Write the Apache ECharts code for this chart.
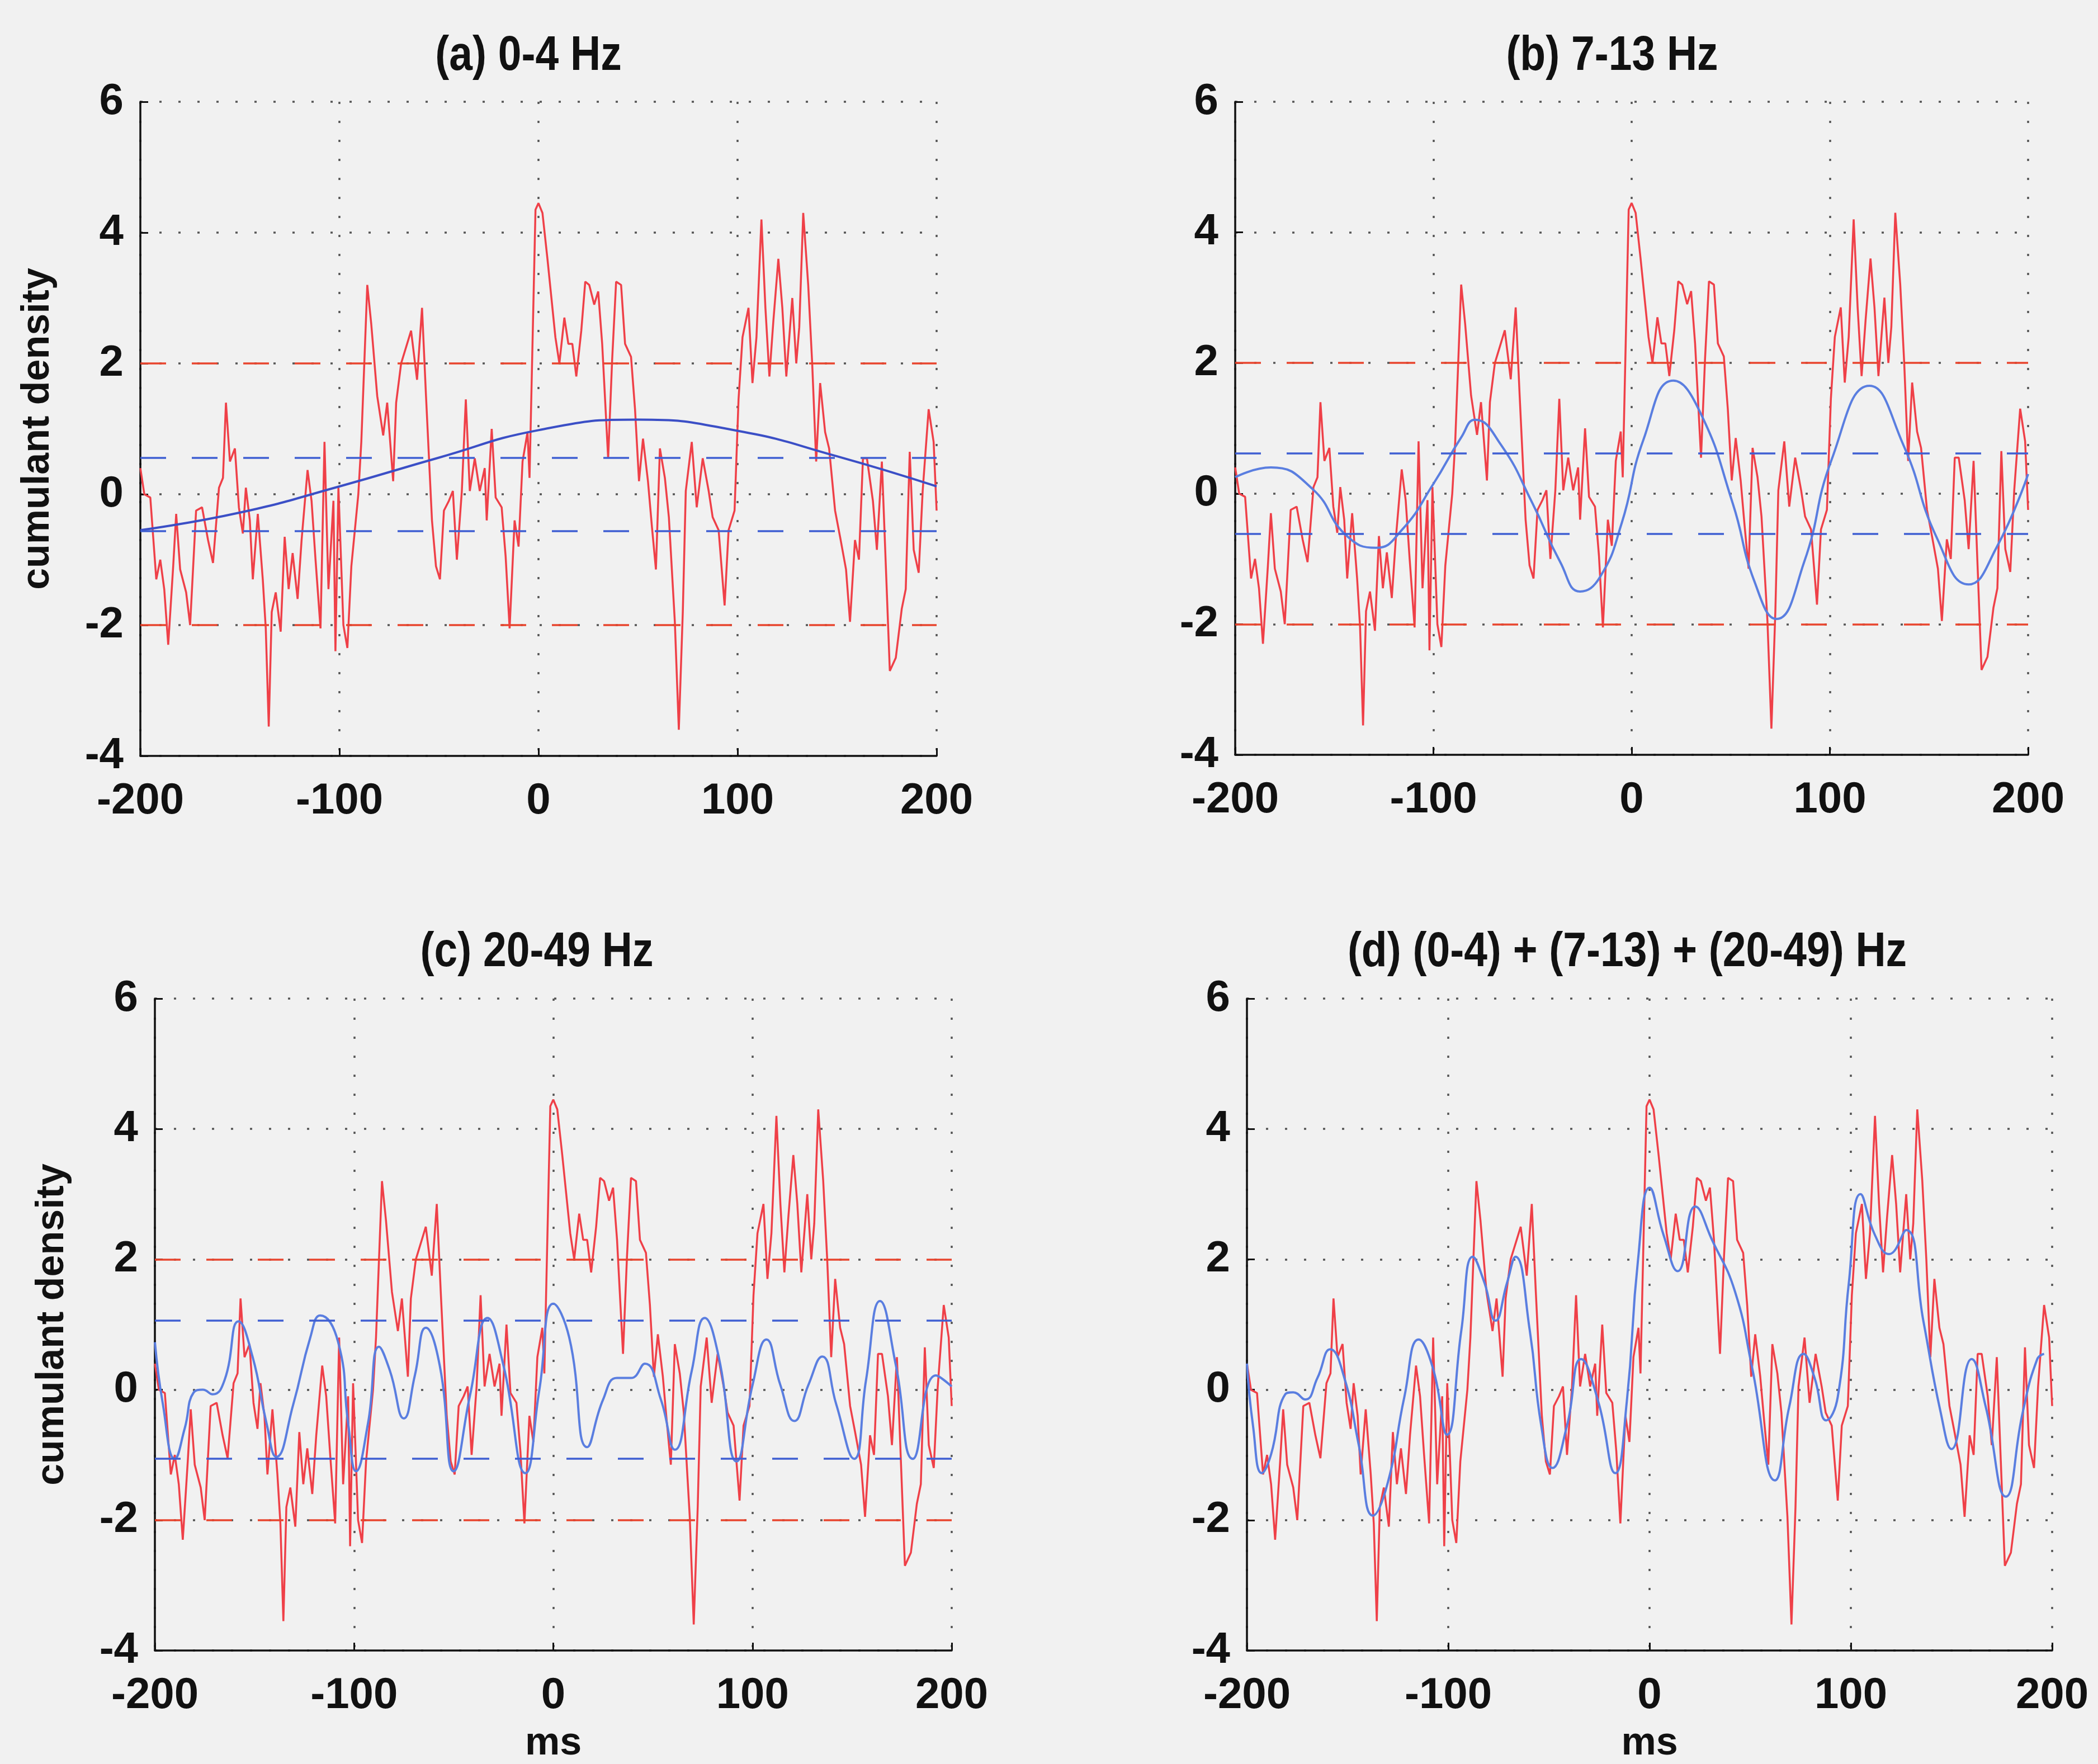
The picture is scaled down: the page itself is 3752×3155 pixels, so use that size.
<!DOCTYPE html>
<html>
<head>
<meta charset="utf-8">
<script src="https://cdn.jsdelivr.net/npm/echarts@6/dist/echarts.min.js"></script>
<style>
  html, body { margin: 0; padding: 0; background: #f1f1f1; }
  #chart { width: 3752px; height: 3155px; }
</style>
</head>
<body>
<div id="chart"></div>
<script>
  // ticks
  const xTicks = [-200, -100, 0, 100, 200];
  const yTicks = [-4, -2, 0, 2, 4, 6];

  // raw cumulant density (same trace in all four panels), [ms, value]
  const rawCumulant = [
    [-200,0.4],[-198,0.0],[-195,-0.05],[-192,-1.3],[-190,-1.0],[-188,-1.45],[-186,-2.3],[-183.5,-1.1],
    [-182,-0.3],[-180,-1.15],[-177,-1.5],[-175,-2.0],[-172,-0.25],[-169,-0.2],[-166,-0.7],[-163.5,-1.05],
    [-160.5,0.1],[-158.5,0.25],[-157,1.4],[-155,0.5],[-152.5,0.7],[-150.5,-0.2],[-148.5,-0.6],[-147,0.1],
    [-145,-0.4],[-143.5,-1.3],[-141,-0.3],[-138.5,-1.3],[-137,-2.05],[-135.5,-3.55],[-134,-1.8],[-132,-1.5],
    [-129.5,-2.1],[-127.5,-0.65],[-125.5,-1.45],[-123.5,-0.9],[-121,-1.6],[-119,-0.7],[-116,0.37],[-114,-0.1],
    [-112,-1.0],[-109.5,-2.05],[-107.5,0.8],[-105.5,-1.45],[-103,-0.1],[-102,-2.4],[-100.5,0.1],[-98,-2.0],
    [-96,-2.35],[-94,-1.1],[-90.5,0.0],[-89,0.8],[-86,3.2],[-84,2.6],[-81,1.5],[-78,0.9],[-76,1.4],[-73,0.2],
    [-71.5,1.4],[-69,2.0],[-66,2.3],[-64,2.5],[-61,1.75],[-58.5,2.85],[-56.5,1.5],[-53.5,-0.4],[-51.5,-1.1],
    [-49.5,-1.3],[-47.5,-0.25],[-45,-0.1],[-43,0.05],[-41,-1.0],[-38.5,0.05],[-36.5,1.45],[-34.5,0.05],
    [-32,0.55],[-29.5,0.05],[-27,0.4],[-26,-0.4],[-23.5,1.0],[-21.5,-0.05],[-18.5,-0.2],[-16.5,-0.95],
    [-14.5,-2.05],[-12,-0.4],[-10,-0.8],[-8,0.5],[-5.5,0.95],[-4.5,0.25],[-3,2.3],[-1.5,4.35],[0,4.45],
    [2,4.3],[4.5,3.6],[6.5,3.0],[8.5,2.4],[10.5,2.0],[13,2.7],[15,2.3],[17,2.3],[19,1.8],[21.5,2.5],
    [23.5,3.25],[25.5,3.2],[28,2.9],[30,3.1],[32,2.3],[35,0.55],[37,2.05],[39,3.25],[41.5,3.2],[43.5,2.3],
    [46.5,2.1],[48.5,1.3],[50.5,0.2],[52.5,0.85],[55,0.2],[57,-0.5],[59,-1.15],[61,0.7],[63.5,0.25],
    [65.5,-0.35],[68.5,-1.95],[70.5,-3.6],[72.5,-1.8],[74,0.05],[77,0.8],[79.5,-0.2],[82.5,0.55],[85.5,0.05],
    [87.5,-0.35],[90.5,-0.55],[93.5,-1.7],[95.5,-0.55],[98.5,-0.25],[100.5,1.45],[102.5,2.4],[105.5,2.85],
    [107.5,1.7],[109.5,2.4],[112,4.2],[114,2.85],[116,1.8],[118,2.65],[120.5,3.6],[122.5,2.85],[124.5,1.8],
    [127.5,3.0],[129.5,2.0],[131,2.55],[133,4.3],[135.5,3.2],[137.5,2.0],[139.5,0.5],[141.5,1.7],[144,0.95],
    [146,0.7],[149,-0.25],[151.5,-0.65],[154.5,-1.15],[156.5,-1.95],[159,-0.7],[161,-1.0],[163,0.55],
    [165,0.55],[168,-0.1],[170,-0.85],[172.5,0.5],[174.5,-1.1],[176.5,-2.7],[179.5,-2.5],[182.5,-1.75],
    [184.5,-1.45],[186.5,0.65],[188.5,-0.85],[191,-1.2],[193,0.05],[196,1.3],[198.5,0.8],[200,-0.25]
  ];

  // filtered traces
  const band0to4 = [[-200,-0.55],[-150,-0.28],[-100,0.12],[-50,0.56],[0,0.98],[50,1.14],[100,0.97],[150,0.58],[200,0.12]];
  const band7to13 = [
    [-200,0.25],[-182,0.4],[-161,0.07],[-144,-0.64],[-129,-0.83],[-116,-0.56],[-100,0.15],[-86,0.86],
    [-79,1.13],[-66,0.75],[-50,-0.15],[-36,-1.05],[-26,-1.5],[-16,-1.28],[-5,-0.45],[6,0.83],[21,1.73],
    [34,1.28],[51,-0.15],[62,-1.35],[73,-1.92],[87,-1.05],[101,0.53],[120,1.65],[137,0.75],[154,-0.68],
    [170,-1.39],[184,-0.83],[200,0.3]
  ];
  const band20to49 = [
    [-200,0.73],[-196,-0.22],[-190,-1.06],[-185,-0.59],[-180.5,-0.04],[-176,0.0],[-171,-0.07],[-165,0.15],
    [-158,1.05],[-151,0.51],[-144,-0.51],[-139,-1.03],[-130.5,-0.22],[-122,0.8],[-117,1.14],[-108,0.73],
    [-103,-0.51],[-99,-1.25],[-93,-0.51],[-87.5,0.66],[-82,0.29],[-75,-0.44],[-69.5,0.22],[-64,0.95],
    [-57,0.37],[-50,-1.25],[-41.7,-0.07],[-33,1.1],[-25,0.37],[-14,-1.28],[-7,0.0],[0,1.32],[8,0.8],
    [17,-0.88],[25,-0.15],[32,0.18],[39,0.18],[46,0.4],[54,-0.15],[61,-0.92],[69.5,0.29],[76,1.1],[83,0.51],
    [92,-1.1],[100,0.07],[107,0.77],[114,0.07],[121,-0.48],[128,0.07],[135,0.51],[142,-0.22],[151,-1.06],
    [157,0.15],[164,1.36],[172,0.37],[180.5,-1.06],[192,0.22],[200,0.05]
  ];
  const bandSum = [
    [-200,0.4],[-197,-0.55],[-192.6,-1.28],[-188,-0.99],[-181,-0.07],[-177,-0.04],[-171,-0.15],[-165,0.18],
    [-158.6,0.62],[-151.6,0.18],[-144.5,-0.84],[-137.4,-1.93],[-130,-1.42],[-121.8,-0.11],[-114.7,0.77],
    [-107.6,0.33],[-100.6,-0.69],[-93.5,0.91],[-87.8,2.04],[-82,1.64],[-76.5,1.06],[-70.8,1.64],[-66.6,2.04],
    [-59.5,0.91],[-53.8,-0.55],[-48.2,-1.2],[-41,-0.55],[-34,0.47],[-25.5,-0.18],[-17,-1.28],[-11.3,-0.18],
    [-5.7,2.0],[0,3.1],[7,2.37],[14,1.82],[22.7,2.81],[31,2.3],[42.5,1.5],[51,0.33],[62.3,-1.39],[69.4,-0.26],
    [76.5,0.55],[82,0.18],[87.8,-0.47],[93.5,-0.11],[99,1.64],[104.8,3.0],[112,2.37],[119,2.08],[127.5,2.45],
    [136,1.06],[144.5,-0.33],[150,-0.91],[160,0.47],[167,-0.26],[177,-1.64],[185.5,-0.33],[192.6,0.47],[196,0.55]
  ];

  // significance levels
  const rawLimits = [2, -2];
  const limits0to4 = [0.56, -0.56];
  const limits7to13 = [0.62, -0.62];
  const limits20to49 = [1.06, -1.06];

  const panels = [
    { title: '(a) 0-4 Hz', tx: 945, ty: 101, grid: { left: 251, top: 182, width: 1424, height: 1170 },
      band: band0to4, bandLimits: limits0to4, rawLim: true, blue: '#3b4fc6', yName: true, xName: false },
    { title: '(b) 7-13 Hz', tx: 2883, ty: 101, grid: { left: 2209, top: 182, width: 1418, height: 1168 },
      band: band7to13, bandLimits: limits7to13, rawLim: true, blue: '#5a7ee0', yName: false, xName: false },
    { title: '(c) 20-49 Hz', tx: 960, ty: 1704, grid: { left: 277, top: 1786, width: 1425, height: 1177 },
      band: band20to49, bandLimits: limits20to49, rawLim: true, blue: '#5a7ee0', yName: true, xName: true },
    { title: '(d) (0-4) + (7-13) + (20-49) Hz', tx: 2910, ty: 1704, grid: { left: 2230, top: 1786, width: 1440, height: 1173 },
      band: bandSum, bandLimits: [], rawLim: false, blue: '#5a7ee0', yName: false, xName: true }
  ];

  const font = 'Liberation Sans, Arial, sans-serif';
  const ink = '#111';

  function limitLine(values, color) {
    return {
      silent: true,
      symbol: ['none', 'none'],
      label: { show: false },
      lineStyle: { color: color, type: [46, 46], width: 3.5 },
      data: values.map(v => ({ yAxis: v }))
    };
  }

  const myChart = echarts.init(document.getElementById('chart'));

  myChart.setOption({
    backgroundColor: '#f1f1f1',
    animation: false,
    graphic: panels.map(p => ({
      type: 'text', x: p.tx, y: p.ty, scaleY: 1.15,
      style: { text: p.title, font: 'bold 75px ' + font, fill: ink, textAlign: 'center', textVerticalAlign: 'middle' }
    })),
    grid: panels.map(p => p.grid),
    xAxis: panels.map((p, i) => ({
      gridIndex: i,
      type: 'value',
      min: xTicks[0],
      max: xTicks[xTicks.length - 1],
      interval: xTicks[1] - xTicks[0],
      name: p.xName ? 'ms' : '',
      nameLocation: 'middle',
      nameGap: 132,
      nameTextStyle: { fontSize: 70, fontWeight: 'bold', color: ink, fontFamily: font },
      axisLine: { show: true, onZero: false, lineStyle: { color: ink, width: 3.5 } },
      axisTick: { show: true, inside: true, length: 14, lineStyle: { color: ink, width: 3 } },
      axisLabel: { fontSize: 78, fontWeight: 'bold', color: ink, margin: 42, fontFamily: font },
      splitLine: { show: true, lineStyle: { color: '#555', type: [4, 30], width: 3.5 } }
    })),
    yAxis: panels.map((p, i) => ({
      gridIndex: i,
      type: 'value',
      min: yTicks[0],
      max: yTicks[yTicks.length - 1],
      interval: yTicks[1] - yTicks[0],
      name: p.yName ? 'cumulant density' : '',
      nameLocation: 'middle',
      nameRotate: 90,
      nameGap: 148,
      nameTextStyle: { fontSize: 70, fontWeight: 'bold', color: ink, fontFamily: font },
      axisLine: { show: true, onZero: false, lineStyle: { color: ink, width: 3.5 } },
      axisTick: { show: true, inside: true, length: 14, lineStyle: { color: ink, width: 3 } },
      axisLabel: { fontSize: 78, fontWeight: 'bold', color: ink, margin: 30, fontFamily: font },
      splitLine: { show: true, lineStyle: { color: '#555', type: [4, 30], width: 3.5 } }
    })),
    series: panels.flatMap((p, i) => {
      const raw = {
        type: 'line', xAxisIndex: i, yAxisIndex: i,
        data: rawCumulant, showSymbol: false, smooth: false,
        lineStyle: { color: '#ef4048', width: 3.5 }
      };
      if (p.rawLim) raw.markLine = limitLine(rawLimits, '#e8452e');
      const band = {
        type: 'line', xAxisIndex: i, yAxisIndex: i,
        data: p.band, showSymbol: false, smooth: 0.5,
        lineStyle: { color: p.blue, width: 4 }
      };
      if (p.bandLimits.length) band.markLine = limitLine(p.bandLimits, '#3f5fd2');
      return [raw, band];
    })
  });
</script>
</body>
</html>
